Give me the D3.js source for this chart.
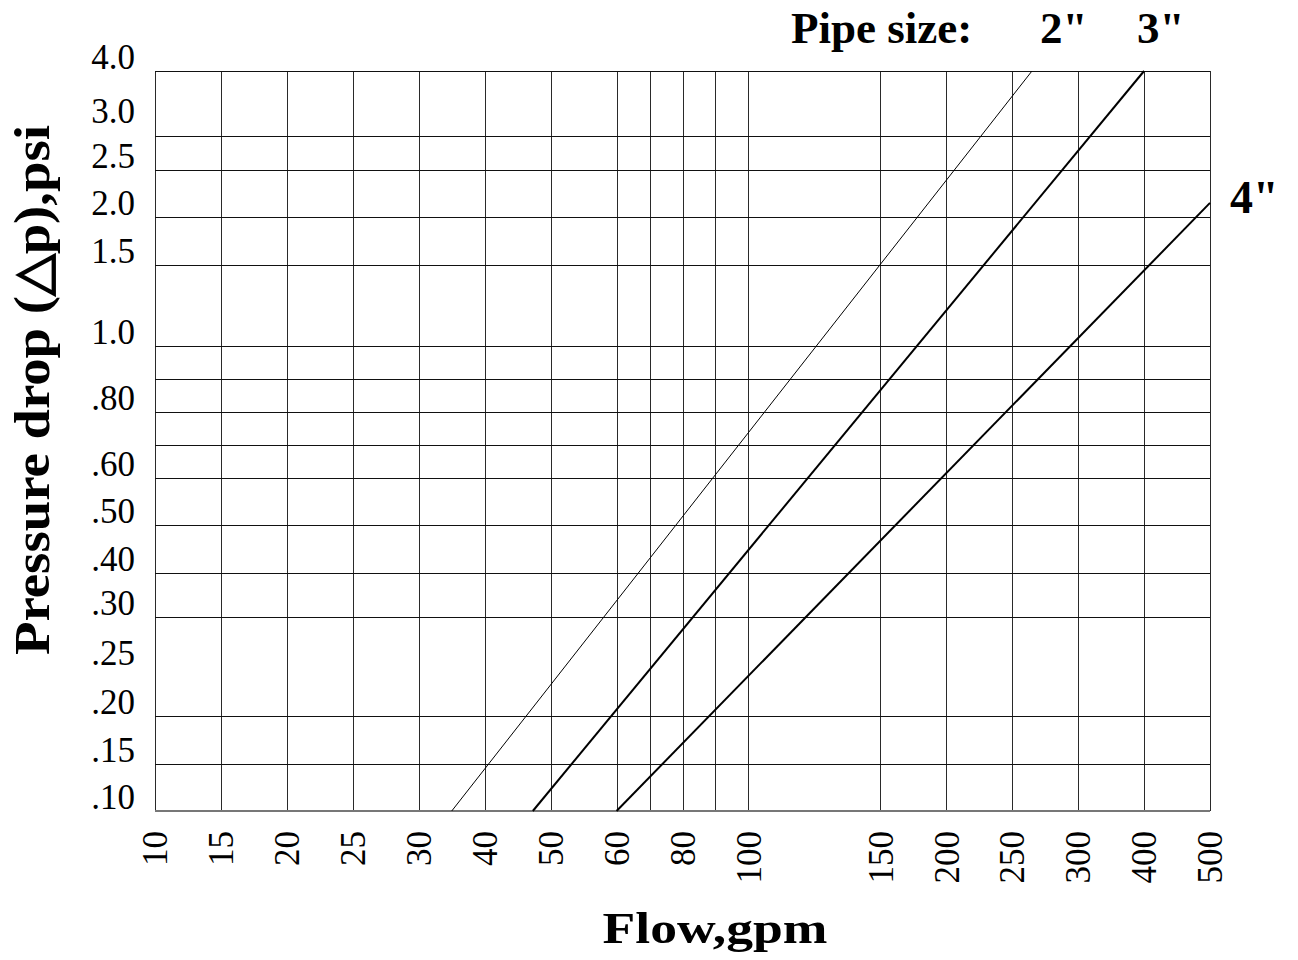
<!DOCTYPE html>
<html>
<head>
<meta charset="utf-8">
<script src="https://cdn.jsdelivr.net/npm/d3@7"></script>
<style>
  body { margin: 0; background: #fff; }
  text { font-family: "Liberation Serif", "Times New Roman", serif; fill: #000; }
</style>
</head>
<body>
<svg id="chart"></svg>
<script>
// flow (gpm) grid lines and labelled ticks
const flowGrid = [10, 15, 20, 25, 30, 40, 50, 60, 70, 80, 90, 100, 150, 200, 250, 300, 400, 500];
const flowLabels = [10, 15, 20, 25, 30, 40, 50, 60, 80, 100, 150, 200, 250, 300, 400, 500];
// column slot of each grid value on the printed chart (not evenly spaced)
const flowSlots = [0, 1, 2, 3, 4, 5, 6, 7, 7.5, 8, 8.5, 9, 11, 12, 13, 14, 15, 16];

// pressure drop (psi) grid lines and labels
const dropGrid = [4.0, 2.8, 2.5, 2.0, 1.5, 1.0, 0.9, 0.8, 0.7, 0.6, 0.5, 0.4, 0.3, 0.2, 0.15, 0.1];
const dropRows = [0, 65, 99, 146, 194, 275, 308, 341, 374, 407, 454, 502, 546, 645, 693, 740];
const dropLabels = [4.0, 3.0, 2.5, 2.0, 1.5, 1.0, 0.8, 0.6, 0.5, 0.4, 0.3, 0.25, 0.2, 0.15, 0.1];
const dropLabelText = ["4.0", "3.0", "2.5", "2.0", "1.5", "1.0", ".80", ".60", ".50", ".40", ".30", ".25", ".20", ".15", ".10"];

// pipe size lines, read at both ends
const pipeSizes = ['2"', '3"', '4"'];
const flowStart = [35, 47.3, 60];
const dropStart = [0.1, 0.1, 0.1];
const flowEnd = [265, 400, 500];
const dropEnd = [4.0, 4.0, 2.15];

const width = 1298, height = 960;
const margin = { top: 71, right: 88, bottom: 149, left: 155 },
    width1 = width - margin.left - margin.right,
    height1 = height - margin.top - margin.bottom;

const svg = d3.select("#chart")
    .attr("width", width)
    .attr("height", height);

const g = svg.append("g")
    .attr("transform", `translate(${margin.left}, ${margin.top})`);

const slotScale = d3.scaleLinear().domain([0, 16]).range([0, width1]);
const xScale = d3.scaleLinear()
    .domain(flowGrid)
    .range(flowSlots.map(s => slotScale(s)));

const yScale = d3.scaleLinear()
    .domain(dropGrid)
    .range(dropRows.map(r => r * height1 / 740));

// grid
g.selectAll(".vgrid")
    .data(flowGrid)
    .enter()
    .append("line")
    .attr("class", "vgrid")
    .attr("x1", d => Math.round(xScale(d)) + 0.5)
    .attr("x2", d => Math.round(xScale(d)) + 0.5)
    .attr("y1", 0)
    .attr("y2", height1)
    .style("stroke", "#2a2a2a")
    .style("stroke-width", 1);

g.selectAll(".hgrid")
    .data(dropGrid)
    .enter()
    .append("line")
    .attr("class", "hgrid")
    .attr("x1", 0)
    .attr("x2", width1)
    .attr("y1", d => Math.round(yScale(d)) + 0.5)
    .attr("y2", d => Math.round(yScale(d)) + 0.5)
    .style("stroke", "#111")
    .style("stroke-width", 1);

// bottom edge is a bit heavier and greyer
g.append("line")
    .attr("x1", 0).attr("x2", width1)
    .attr("y1", height1).attr("y2", height1)
    .style("stroke", "#777")
    .style("stroke-width", 2);

// pipe lines
g.selectAll(".pipe")
    .data(pipeSizes)
    .enter()
    .append("line")
    .attr("class", "pipe")
    .attr("x1", (d, i) => xScale(flowStart[i]))
    .attr("y1", (d, i) => yScale(dropStart[i]))
    .attr("x2", (d, i) => xScale(flowEnd[i]))
    .attr("y2", (d, i) => yScale(dropEnd[i]))
    .style("stroke", "#000")
    .style("stroke-width", (d, i) => i == 0 ? 1 : 2);

// x tick labels, rotated
g.selectAll(".xlabel")
    .data(flowLabels)
    .enter()
    .append("text")
    .attr("class", "xlabel")
    .attr("transform", d => `translate(${xScale(d)}, ${height1 + 20}) rotate(-90)`)
    .attr("dy", "0.35em")
    .attr("text-anchor", "end")
    .style("font-size", "35px")
    .text(d => d);

// y tick labels
g.selectAll(".ylabel")
    .data(dropLabels)
    .enter()
    .append("text")
    .attr("class", "ylabel")
    .attr("x", -20)
    .attr("y", d => yScale(d) - 2)
    .attr("text-anchor", "end")
    .style("font-size", "35px")
    .text((d, i) => dropLabelText[i]);

// titles
svg.append("text")
    .attr("x", 715)
    .attr("y", 943)
    .attr("text-anchor", "middle")
    .attr("textLength", 225)
    .attr("lengthAdjust", "spacingAndGlyphs")
    .style("font-size", "45px")
    .style("font-weight", "bold")
    .text("Flow,gpm");

svg.append("text")
    .attr("transform", "translate(49, 390) rotate(-90)")
    .attr("text-anchor", "middle")
    .attr("textLength", 530)
    .attr("lengthAdjust", "spacingAndGlyphs")
    .style("font-size", "50px")
    .style("font-weight", "bold")
    .text("Pressure drop (\u25B3p),psi");

const legend = svg.append("text")
    .attr("y", 43)
    .style("font-size", "45px")
    .style("font-weight", "bold");
legend.append("tspan").attr("x", 791).text("Pipe size:");
legend.append("tspan").attr("x", 1040).text(pipeSizes[0]);
legend.append("tspan").attr("x", 1137).text(pipeSizes[1]);

svg.append("text")
    .attr("x", 1230)
    .attr("y", 213)
    .style("font-size", "46px")
    .style("font-weight", "bold")
    .text(pipeSizes[2]);
</script>
</body>
</html>
